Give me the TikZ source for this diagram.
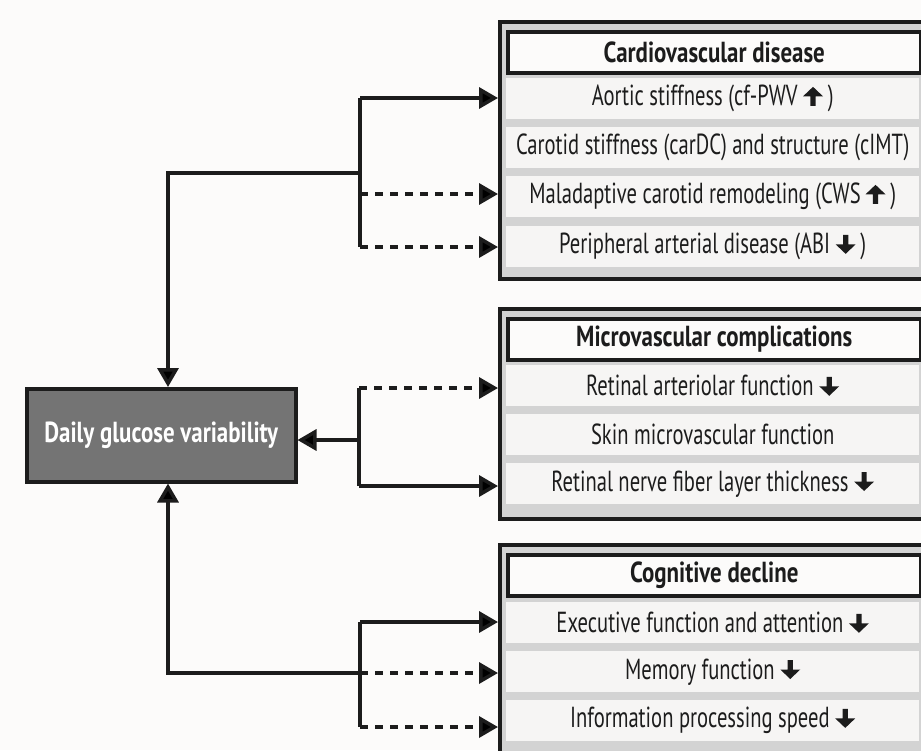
\documentclass[tikz,border=0pt]{standalone}
\usepackage{fontspec}
\setmainfont{PT Sans}[FakeStretch=0.71, BoldFeatures={FakeStretch=0.79}]
\usetikzlibrary{arrows.meta,calc}
\definecolor{bg}{HTML}{FCFBFA}
\definecolor{ink}{HTML}{1C1C1C}
\definecolor{outerfill}{HTML}{D3D3D3}
\definecolor{rowfill}{HTML}{F6F5F4}
\definecolor{mainfill}{HTML}{747474}
\newcommand{\uparrowglyph}{\tikz[x=1pt,y=1pt,baseline=0pt]\fill[ink] (-2.6,0) -- (2.6,0) -- (2.6,9.5) -- (10,9.5) -- (0,19) -- (-10,9.5) -- (-2.6,9.5) -- cycle;}
\newcommand{\downarrowglyph}{\tikz[x=1pt,y=1pt,baseline=0pt]\fill[ink] (-2.6,19) -- (2.6,19) -- (2.6,9.5) -- (10,9.5) -- (0,0) -- (-10,9.5) -- (-2.6,9.5) -- cycle;}
\tikzset{
  outerbox/.style={draw=ink, line width=3.5pt, fill=outerfill},
  headbox/.style={draw=ink, line width=3.5pt, fill=bg, anchor=north west, minimum width=413pt, minimum height=41pt, inner sep=0pt, font=\fontsize{29}{33}\selectfont\bfseries, text=ink},
  rowbox/.style={fill=rowfill, anchor=north west, minimum width=413pt, minimum height=41pt, inner sep=0pt, font=\fontsize{29}{33}\selectfont, text=ink},
  mainbox/.style={draw=ink, line width=3.5pt, fill=mainfill, anchor=north west, minimum width=269pt, minimum height=93pt, inner sep=0pt, font=\fontsize{29}{33}\selectfont\bfseries, text=white},
  conn/.style={draw=ink, line width=3.5pt},
  arr/.style={conn, -{Triangle[length=19pt,width=21pt]}},
  darr/.style={arr, dash pattern=on 8pt off 7pt},
}
\begin{document}
\begin{tikzpicture}[x=1pt,y=-1pt]
\useasboundingbox[fill=bg] (0,0) rectangle (921,750);
% right-hand groups
\node[outerbox, anchor=north west, minimum width=440pt, minimum height=257pt] (cvo) at (498,20) {};
\node[headbox] (cvh) at (506,30) {Cardiovascular disease};
\node[rowbox] (cv1) at (506,78) {Aortic stiffness (cf-PWV \uparrowglyph\,)};
\node[rowbox] (cv2) at (506,127) {Carotid stiffness (carDC) and structure (cIMT)};
\node[rowbox] (cv3) at (506,176) {Maladaptive carotid remodeling (CWS\,\uparrowglyph\,)};
\node[rowbox] (cv4) at (506,226) {Peripheral arterial disease (ABI \downarrowglyph\,)};

\node[outerbox, anchor=north west, minimum width=440pt, minimum height=210pt] (mvo) at (498,307) {};
\node[headbox] (mvh) at (506,317) {Microvascular complications};
\node[rowbox] (mv1) at (506,365) {Retinal arteriolar function \downarrowglyph};
\node[rowbox] (mv2) at (506,414) {Skin microvascular function};
\node[rowbox] (mv3) at (506,463) {Retinal nerve fiber layer thickness \downarrowglyph};

\node[outerbox, anchor=north west, minimum width=440pt, minimum height=230pt] (cgo) at (498,543) {};
\node[headbox] (cgh) at (506,553) {Cognitive decline};
\node[rowbox] (cg1) at (506,602) {Executive function and attention \downarrowglyph};
\node[rowbox] (cg2) at (506,651) {Memory function \downarrowglyph};
\node[rowbox] (cg3) at (506,700) {Information processing speed \downarrowglyph};

% central node
\node[mainbox] (dgv) at (25,387) {Daily glucose variability};

% junction coordinates
\coordinate (ta) at (360,98);
\coordinate (tm) at (360,173);
\coordinate (tb) at (360,194);
\coordinate (tc) at (360,247);
\coordinate (ma) at (359,388);
\coordinate (mm) at (359,440);
\coordinate (mb) at (359,486);
\coordinate (ba) at (360,622);
\coordinate (bm) at (360,673);
\coordinate (bb) at (360,727);

% top group
\draw[conn] (ta) -- (tc);
\draw[arr] (ta) -- (cvo.west |- ta);
\draw[darr] (tb) -- (cvo.west |- tb);
\draw[darr] (tc) -- (cvo.west |- tc);
\draw[arr] (tm) -| ([xshift=143pt]dgv.north west);

% middle group
\draw[conn] (ma) -- (mb);
\draw[darr] (ma) -- (mvo.west |- ma);
\draw[arr] (mb) -- (mvo.west |- mb);
\draw[arr] (mm) -- (dgv.east |- mm);

% bottom group
\draw[conn] (ba) -- (bb);
\draw[arr] (ba) -- (cgo.west |- ba);
\draw[darr] (bm) -- (cgo.west |- bm);
\draw[darr] (bb) -- (cgo.west |- bb);
\draw[arr] (bm) -| ([xshift=143pt]dgv.south west);
\end{tikzpicture}
\end{document}
